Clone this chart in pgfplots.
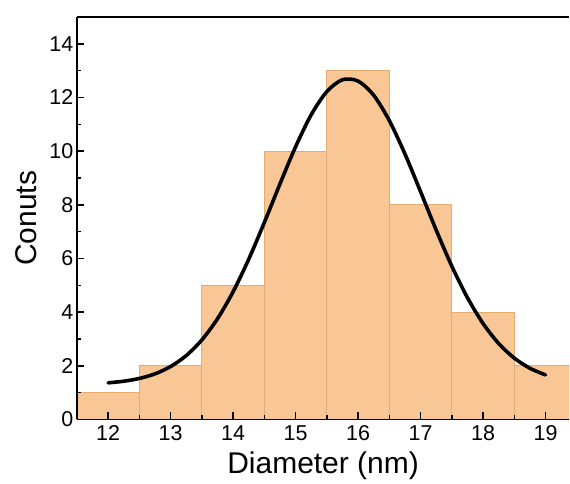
\documentclass[border=0pt]{standalone}
\usepackage{pgfplots}
\pgfplotsset{compat=1.18}
\usepackage{fontspec}
\setmainfont{Liberation Sans}
\definecolor{barfill}{RGB}{249,199,150}
\definecolor{baredge}{RGB}{226,172,114}
\begin{document}
\begin{tikzpicture}
\begin{axis}[
  name=ax,
  at={(0,0)}, anchor=south west, scale only axis,
  width=493pt, height=403pt,
  xmin=11.5, xmax=19.38, ymin=0, ymax=15,
  axis lines=left, axis line style={-, line width=1.5pt},
  axis on top,
  xtick={12,...,19}, ytick={0,2,...,14},
  minor x tick num=1, minor y tick num=1,
  tick align=inside, major tick length=7pt, minor tick length=4pt,
  tick style={black, line width=1.5pt},
  ticklabel style={font=\fontsize{21.5}{24}\selectfont},
  xticklabel style={yshift=-3pt},
  /pgf/number format/assume math mode=true,
  xlabel={Diameter (nm)}, ylabel={Conuts},
  label style={font=\fontsize{30}{33}\selectfont},
  ylabel shift=6pt, xlabel shift=4pt,
]
\addplot[ybar interval, fill=barfill, draw=baredge, line width=0.8pt] coordinates {
  (11.5,1) (12.5,2) (13.5,5) (14.5,10) (15.5,13) (16.5,8) (17.5,4) (18.5,2) (19.5,2)
};
\addplot[black, line width=3.6pt, smooth, line cap=round] coordinates {
  (12.0,1.365) (12.25,1.425) (12.5,1.528) (12.75,1.70) (13.0,1.973) (13.25,2.381)
  (13.5,2.964) (13.75,3.752) (14.0,4.76) (14.25,5.972) (14.5,7.341) (14.75,8.779)
  (15.0,10.163) (15.25,11.356) (15.5,12.22) (15.75,12.66) (16.0,12.611)
  (16.25,12.082) (16.5,11.139) (16.75,9.897) (17.0,8.491) (17.25,7.059) (17.5,5.715)
  (17.75,4.541) (18.0,3.577) (18.25,2.832) (18.5,2.287) (18.75,1.909) (19.0,1.659)
};
\end{axis}
\draw[line width=1.5pt] (ax.north west) -- (ax.north east);
\path[use as bounding box] (-77pt,-57pt) rectangle (493pt,420pt);
\end{tikzpicture}
\end{document}
